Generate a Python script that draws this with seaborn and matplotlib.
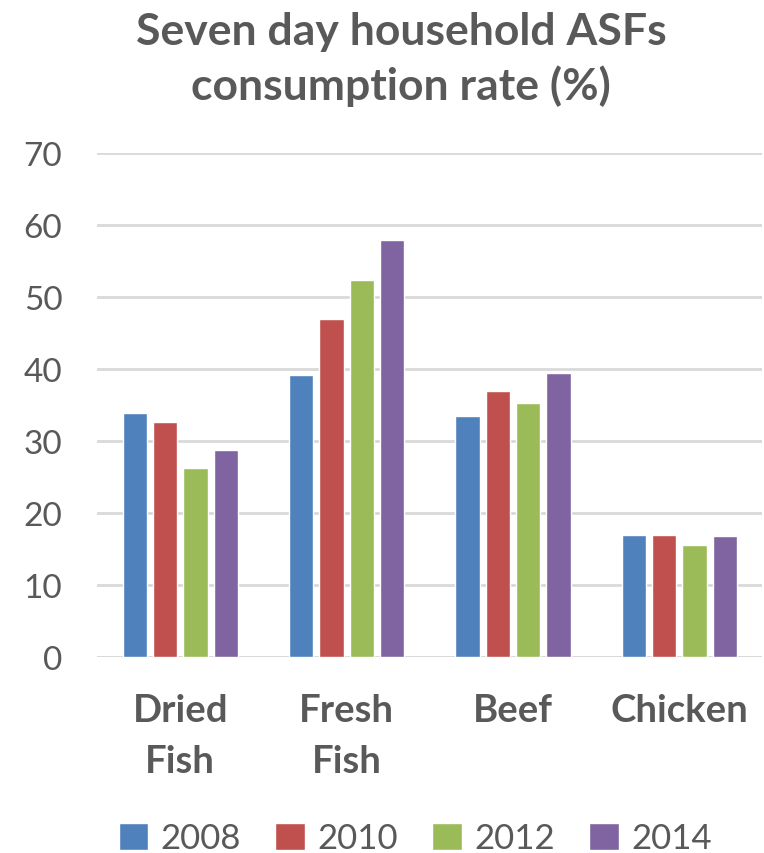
import matplotlib.pyplot as plt
import pandas as pd
import seaborn as sns

# Data
categories = ["Dried\nFish", "Fresh\nFish", "Beef", "Chicken"]
years = ["2008", "2010", "2012", "2014"]
rate_2008 = [33.9, 39.1, 33.5, 16.9]
rate_2010 = [32.6, 46.9, 37.0, 17.0]
rate_2012 = [26.2, 52.3, 35.3, 15.6]
rate_2014 = [28.7, 57.9, 39.4, 16.8]

COLORS = ["#4F81BD", "#C0504D", "#9BBB59", "#8064A2"]
TEXT = "#595959"
GRID = "#D9D9D9"


def main() -> None:
    df = pd.DataFrame(
        {
            "food": categories * 4,
            "year": [y for y in years for _ in categories],
            "rate": rate_2008 + rate_2010 + rate_2012 + rate_2014,
        }
    )

    sns.set_style("white")
    plt.rcParams["font.family"] = ["Lato", "DejaVu Sans"]

    fig = plt.figure(figsize=(7.64, 8.54), dpi=100)
    ax = fig.add_axes([0.127, 0.2295, 0.871, 0.5902])

    sns.barplot(
        data=df,
        x="food",
        y="rate",
        hue="year",
        palette=COLORS,
        width=0.73,
        gap=0.2,
        saturation=1,
        ax=ax,
    )

    ax.set_ylim(0, 70)
    ax.set_yticks(range(0, 71, 10))
    ax.yaxis.grid(True, color=GRID, linewidth=2)
    ax.set_axisbelow(True)
    for side in ["top", "right", "left", "bottom"]:
        ax.spines[side].set_visible(False)
    ax.axhline(0, color=GRID, linewidth=2, zorder=0)

    ax.tick_params(axis="y", length=0, pad=25, labelsize=24, labelcolor=TEXT)
    ax.tick_params(axis="x", length=0, pad=26, labelsize=27.5, labelcolor=TEXT)
    for lbl in ax.get_xticklabels():
        lbl.set_fontweight("bold")
        lbl.set_linespacing(1.6)
    ax.set_xlabel("")
    ax.set_ylabel("")

    fig.suptitle(
        "Seven day household ASFs\nconsumption rate (%)",
        x=0.525,
        y=0.986,
        fontsize=32,
        fontweight="bold",
        color=TEXT,
        linespacing=1.4,
    )

    ax.legend(
        loc="center",
        bbox_to_anchor=(0.478, -0.36),
        ncol=4,
        frameon=False,
        fontsize=25,
        labelcolor=TEXT,
        handlelength=0.85,
        handleheight=0.85,
        handletextpad=0.35,
        columnspacing=1.0,
    )

    fig.savefig("out.png", dpi=100)


if __name__ == "__main__":
    main()
